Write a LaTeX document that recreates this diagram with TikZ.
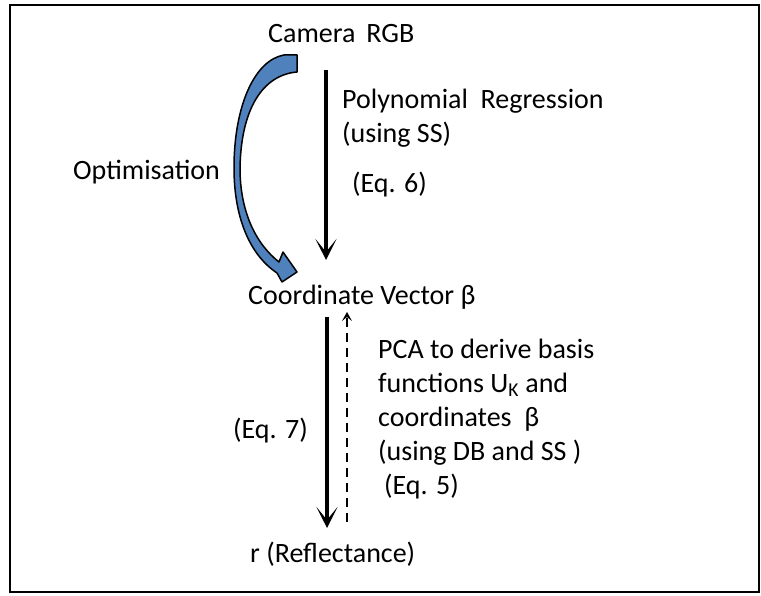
\documentclass[tikz,border=0pt]{standalone}
\usepackage{fontspec}
\setmainfont{Carlito}
\usetikzlibrary{calc,arrows.meta}

\definecolor{optblue}{RGB}{79,129,189}

\begin{document}
\begin{tikzpicture}[x=1pt,y=-1pt,
	every node/.style={inner sep=0pt,anchor=base west,font=\fontsize{28}{34.5}\selectfont},
	bigarrow/.style={line width=3.5pt,-{Stealth[length=21pt,width=21pt,inset=13pt]}},
	pcaarrow/.style={line width=2.8pt,dash pattern=on 9pt off 6pt,-{Stealth[length=9pt,width=10pt,inset=4pt]}}]

	\useasboundingbox (0,0) rectangle (761,596);

	% frame
	\draw[line width=2.5pt] (10,5) rectangle (759,592);

	% stages
	\node (cam)  at (268,43)  {Camera\ \,RGB};
	\node (vec)  at (248,305) {Coordinate Vector β};
	\node (refl) at (250,562) {r (Reflectance)};

	% labels
	\node (poly) at (342,109) {Polynomial\ \ Regression};
	\node (ss)   at (342,143) {(using SS)};
	\node (eq6)  at (352,193) {(Eq. 6)};
	\node (opt)  at (73,180)  {Optimisation};
	\node (eq7)  at (233,438) {(Eq. 7)};
	% base of a multi-line node is its last line
	\node[align=left,font=\fontsize{28}{34}\selectfont] (pca) at (378,494)
		{PCA to derive basis\\functions U\textsubscript{K} and\\coordinates\ \ β\\(using DB and SS )\\\hspace{6pt}(Eq. 5)};

	% regression and reconstruction
	\draw[bigarrow] ($(cam.base west)+(58,27)$) -- ($(vec.base west)+(78,-45)$);
	\draw[bigarrow] ($(vec.base west)+(79,12)$) -- ($(refl.base west)+(77,-34)$);

	% PCA
	\draw[pcaarrow] ($(refl.base west)+(97,-40)$) -- ($(vec.base west)+(99,7)$);

	% optimisation loop
	\filldraw[fill=optblue,draw=black,line width=1.5pt,line join=round]
		(284,55) -- (297,55) -- (297,72)
		.. controls (262,75) and (241,110) .. (240,168)
		.. controls (240,212) and (256,244) .. (279,262)
		-- (283,252) -- (297,272) -- (282,282) -- (277,273)
		.. controls (250,255) and (234,218) .. (234,168)
		.. controls (234,105) and (255,60) .. (284,55) -- cycle;

\end{tikzpicture}
\end{document}
